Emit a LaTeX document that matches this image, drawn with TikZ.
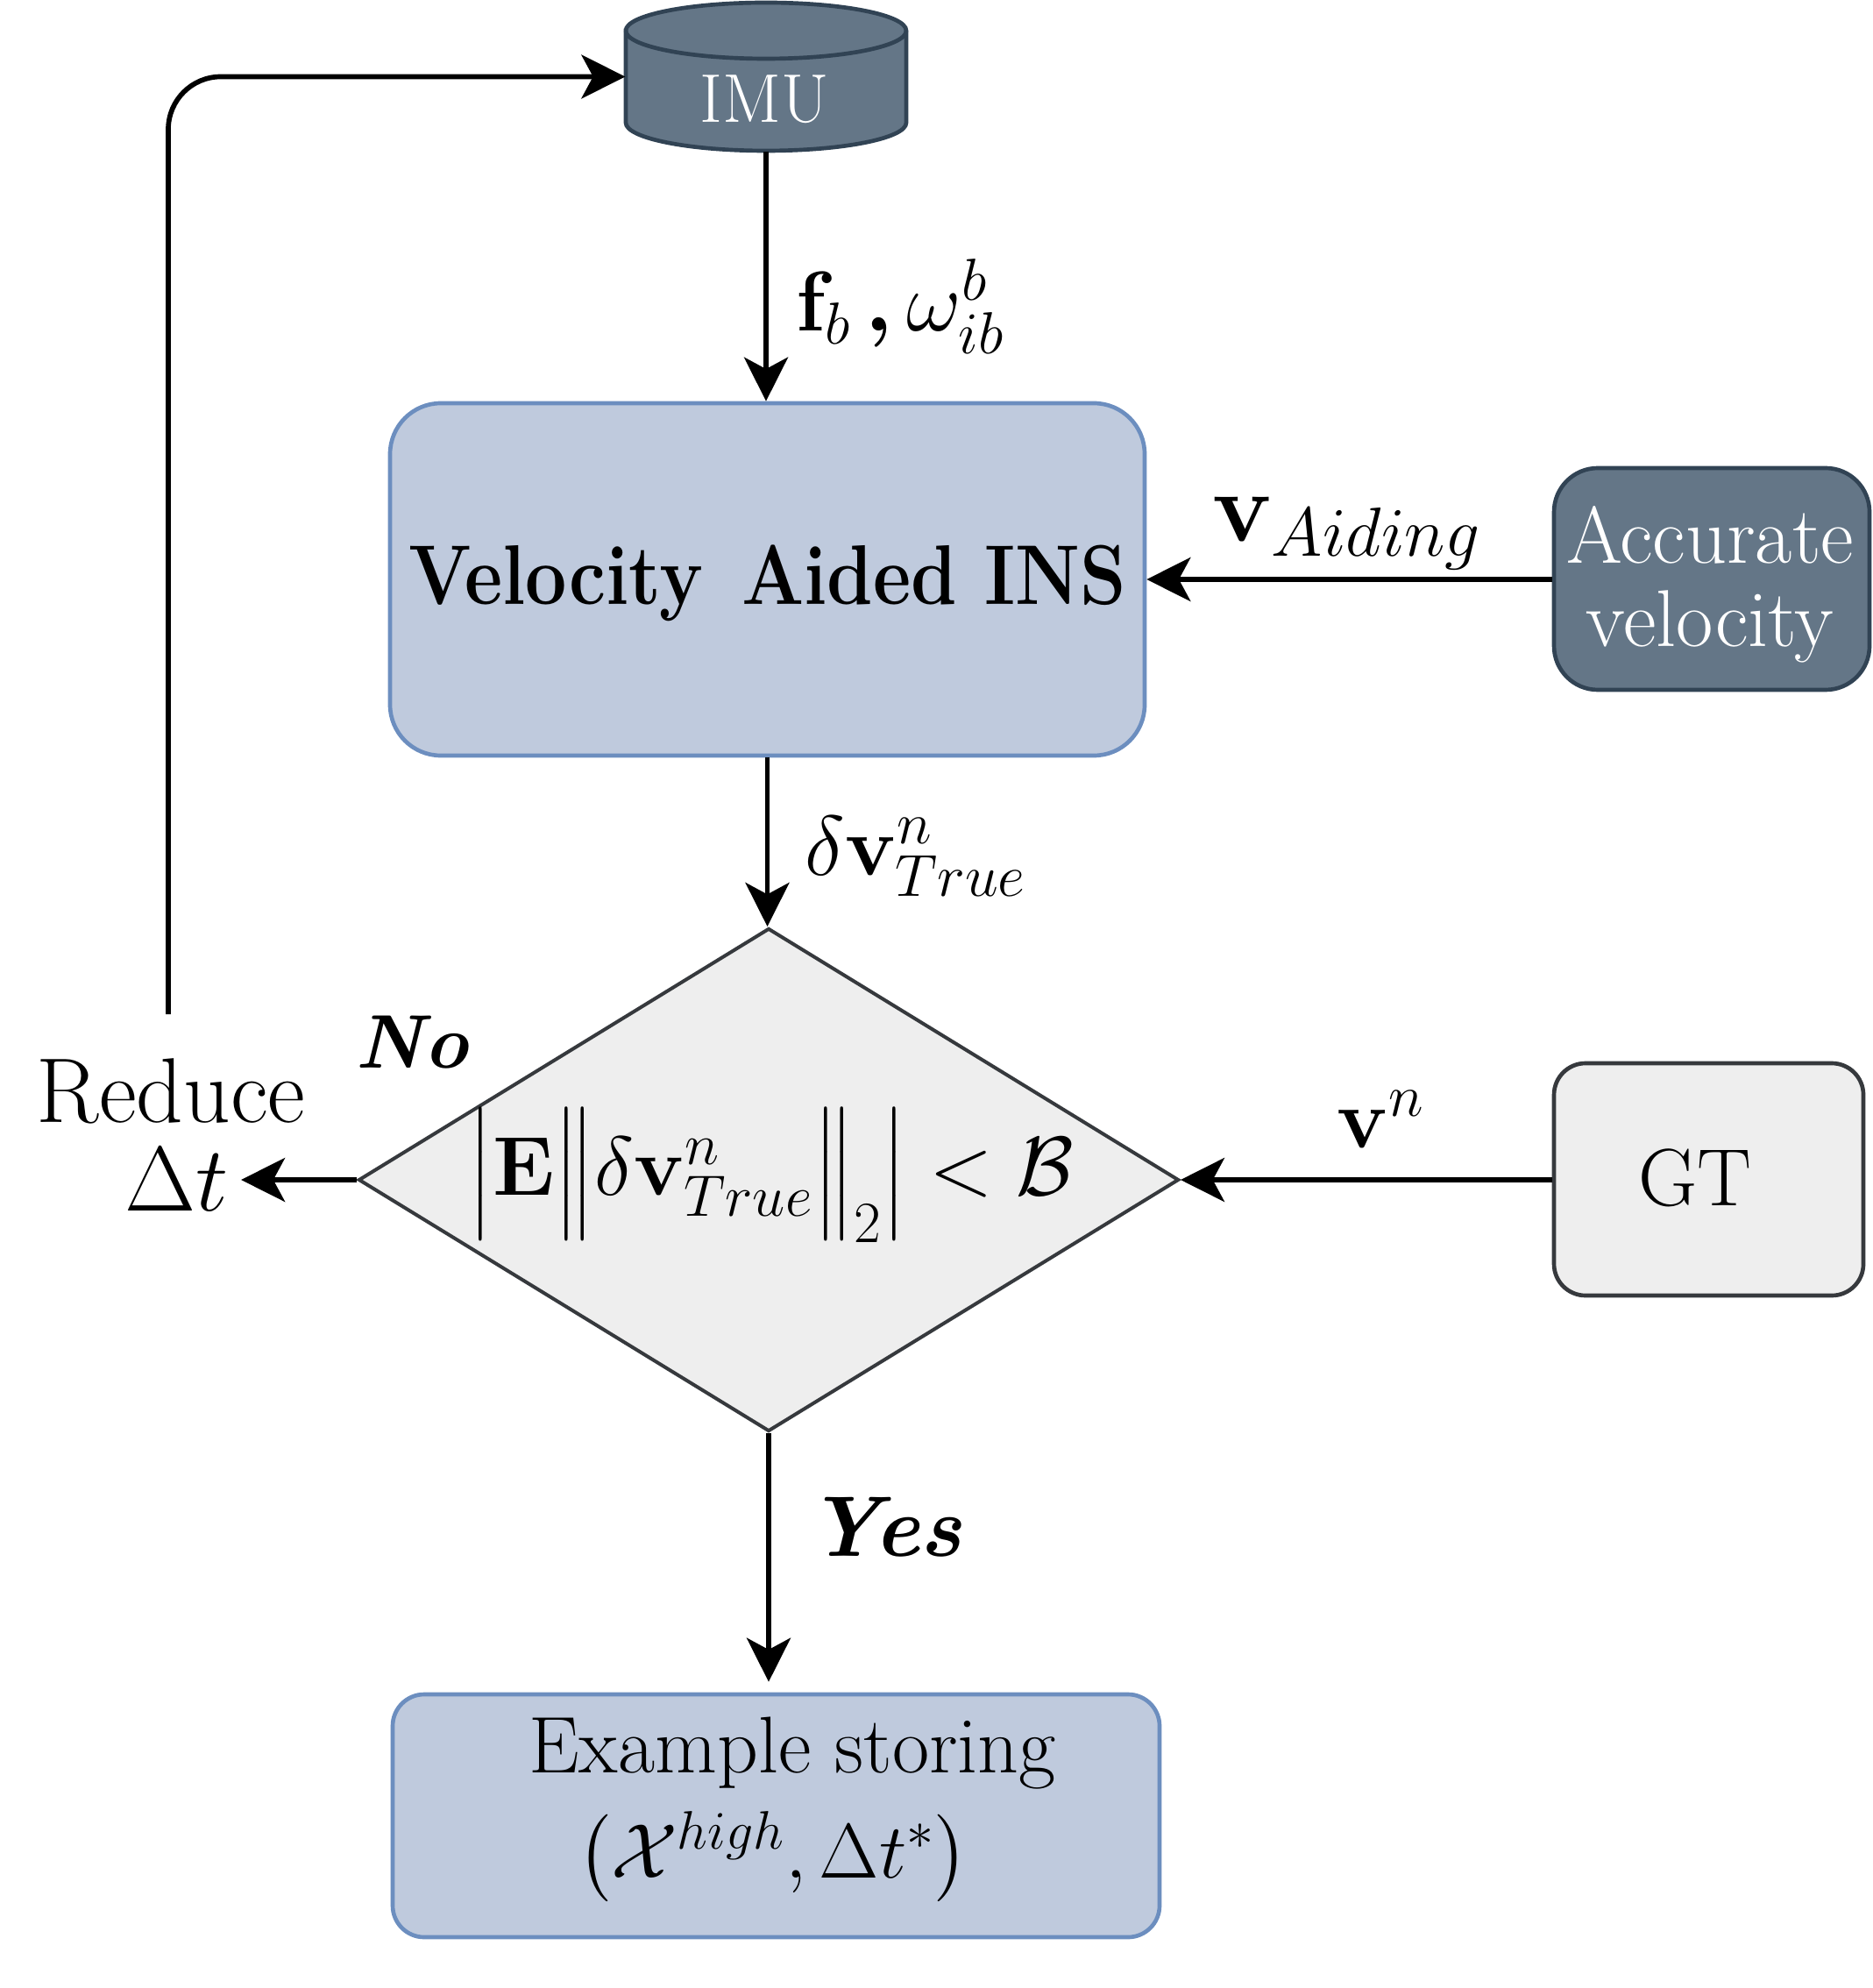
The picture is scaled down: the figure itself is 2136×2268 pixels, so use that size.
\RequirePackage{fix-cm}
\documentclass[tikz,border=0pt]{standalone}
\usepackage{amsmath,bm}
\usepackage{graphicx}
\usetikzlibrary{arrows.meta,shapes.geometric}
\definecolor{insfill}{HTML}{BFCADD}
\definecolor{insdraw}{HTML}{6C8EBF}
\definecolor{darkfill}{HTML}{647687}
\definecolor{darkdraw}{HTML}{314354}
\definecolor{grayfill}{HTML}{EEEEEE}
\definecolor{graydraw}{HTML}{36393D}
\begin{document}
\begin{tikzpicture}[x=0.3pt,y=-0.3pt,
  conn/.style={-{Stealth[length=15pt,width=15pt,inset=4pt]}, line width=1.7pt},
  box/.style={draw, line width=1.4pt, inner sep=0pt},
  insbox/.style={box, draw=insdraw, fill=insfill},
  darkbox/.style={box, draw=darkdraw, fill=darkfill},
  graybox/.style={box, draw=graydraw, fill=grayfill},
  lbl/.style={inner sep=0pt, anchor=base west},
  txt/.style={inner sep=0pt, anchor=base}]
\useasboundingbox (0,0) rectangle (2136,2268);

% IMU cylinder
\filldraw[fill=darkfill, draw=darkdraw, line width=1.4pt]
  (714,35) -- (714,140) arc[start angle=180,end angle=360,x radius=48pt,y radius=9.6pt]
  -- (1034,35) arc[start angle=0,end angle=180,x radius=48pt,y radius=9.6pt] -- cycle;
\draw[darkdraw, line width=1.4pt] (714,35) arc[start angle=180,end angle=360,x radius=48pt,y radius=9.6pt];
\node[minimum width=96pt, minimum height=50.7pt, inner sep=0pt] (imu) at (874,87.5) {};
\node[txt, text=white] (imutext) at (872,140) {\fontsize{23.6pt}{28pt}\selectfont IMU};

% boxes
\node[insbox, rounded corners=17.4pt, minimum width=258.3pt, minimum height=120.6pt] (ins) at (875.5,661) {};
\node[txt] (instext) at (876,690) {\fontsize{29pt}{35pt}\selectfont\bfseries\scalebox{0.87}[1]{Velocity\hspace{0.15em} Aided INS}};

\node[darkbox, rounded corners=15pt, minimum width=108pt, minimum height=75.9pt] (acc) at (1953,660.5) {};
\node[txt, text=white] (acc1) at (1951,643) {\fontsize{27.6pt}{30pt}\selectfont Accurate};
\node[txt, text=white] (acc2) at (1951,738) {\fontsize{27.6pt}{30pt}\selectfont velocity};

\node[graybox, rounded corners=10.8pt, minimum width=105.9pt, minimum height=79.5pt] (gt) at (1949.5,1345.5) {};
\node[txt] (gttext) at (1934,1375) {\fontsize{27.8pt}{33pt}\selectfont GT};

\node[diamond, draw=graydraw, fill=grayfill, line width=1.2pt, minimum width=280.8pt, minimum height=172.2pt, inner sep=0pt] (cond) at (877,1346) {};
\node[txt] (condtext) at (880,1363) {\fontsize{28.6pt}{34pt}\selectfont $\bigl|\mathbf{E}\bigl\|\delta\mathbf{v}^{n}_{True}\bigr\|_2\bigr| < \mathcal{B}$};

\node[insbox, rounded corners=10.8pt, minimum width=262.5pt, minimum height=83.1pt] (store) at (885.5,2071.5) {};
\node[txt] (store1) at (904,2022) {\fontsize{27.5pt}{33pt}\selectfont Example storing};
\node[txt] (store2) at (882,2142) {\fontsize{26.5pt}{32pt}\selectfont $\bigl(\mathcal{X}^{high},\Delta t^{*}\bigr)$};

% reduce
\node[txt] (reduce) at (195,1280) {\fontsize{31.5pt}{38pt}\selectfont Reduce};
\node[txt, inner sep=4pt] (dt) at (202,1381) {\fontsize{31.5pt}{38pt}\selectfont $\Delta t$};
\coordinate (loopstart) at (192,1157);

% labels
\node[lbl] (lf) at (908,378) {\fontsize{29pt}{35pt}\selectfont $\mathbf{f}_b\,\boldsymbol{,}\omega^{b}_{ib}$};
\node[lbl] (lva) at (1383,618) {\fontsize{34pt}{40pt}\selectfont $\mathbf{v}_{Aiding}$};
\node[lbl] (ldv) at (918,998) {\fontsize{29pt}{35pt}\selectfont $\delta\mathbf{v}^{n}_{True}$};
\node[lbl] (lvn) at (1525,1309) {\fontsize{29pt}{35pt}\selectfont $\mathbf{v}^{n}$};
\node[lbl] (lno) at (405,1218) {\fontsize{26pt}{31pt}\selectfont\bfseries\itshape No};
\node[lbl] (lyes) at (920,1775) {\fontsize{29.4pt}{35pt}\selectfont\bfseries\itshape Yes};

% connectors
\draw[conn] (imu.south) -- (imu.south |- ins.north);
\draw[conn] (acc.west |- ins.east) -- (ins.east);
\draw[conn] (ins.south) -- (ins.south |- cond.north);
\draw[conn] (gt.west |- cond.east) -- (cond.east);
\draw[conn] (cond.west) -- (cond.west -| dt.east);
\draw[conn, shorten >=3.6pt] (cond.south) -- (cond.south |- store.north);
\draw[conn, rounded corners=18pt] (loopstart) |- (imu.west);
\end{tikzpicture}
\end{document}
